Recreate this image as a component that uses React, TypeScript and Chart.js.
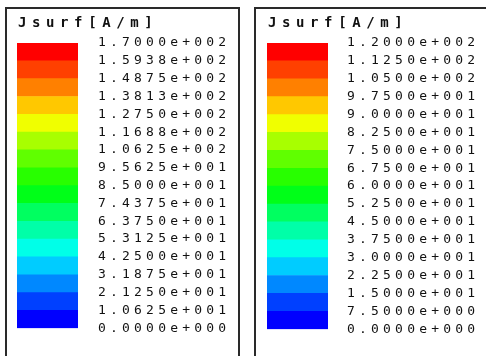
import React, { useEffect, useRef } from "react";
import { Chart, registerables } from "chart.js";

Chart.register(...registerables);

// Band colours, bottom (lowest level) to top (highest level)
const bandColors = [
  "#0000FF", "#0040FF", "#0088FF", "#00CCFF",
  "#00FFE8", "#00FFA8", "#00FF60", "#00FF18",
  "#28FF00", "#60FF00", "#A8FF00", "#F0FF00",
  "#FFC800", "#FF8000", "#FF4000", "#FF0000",
];

const title = "Jsurf[A/m]";

// Left legend: band boundaries (bottom to top) and their labels
const leftLevels = [
  0, 10.625, 21.25, 31.875, 42.5, 53.125, 63.75, 74.375, 85,
  95.625, 106.25, 116.875, 127.5, 138.125, 148.75, 159.375, 170,
];
const leftTickLabels = [
  "0.0000e+000", "1.0625e+001", "2.1250e+001", "3.1875e+001", "4.2500e+001",
  "5.3125e+001", "6.3750e+001", "7.4375e+001", "8.5000e+001", "9.5625e+001",
  "1.0625e+002", "1.1688e+002", "1.2750e+002", "1.3813e+002", "1.4875e+002",
  "1.5938e+002", "1.7000e+002",
];

// Right legend
const rightLevels = [
  0, 7.5, 15, 22.5, 30, 37.5, 45, 52.5, 60,
  67.5, 75, 82.5, 90, 97.5, 105, 112.5, 120,
];
const rightTickLabels = [
  "0.0000e+000", "7.5000e+000", "1.5000e+001", "2.2500e+001", "3.0000e+001",
  "3.7500e+001", "4.5000e+001", "5.2500e+001", "6.0000e+001", "6.7500e+001",
  "7.5000e+001", "8.2500e+001", "9.0000e+001", "9.7500e+001", "1.0500e+002",
  "1.1250e+002", "1.2000e+002",
];

type PanelProps = {
  levels: number[];
  tickLabels: string[];
  barLeft: number;
  barRight: number;
  labelGap: number;
  frame: { x0: number; y0: number; x1: number; y1: number };
};

const W = 243;
const H = 356;

function LegendPanel({ levels, tickLabels, barLeft, barRight, labelGap, frame }: PanelProps) {
  const ref = useRef<HTMLCanvasElement | null>(null);
  useEffect(() => {
    if (!ref.current) return;
    const datasets = bandColors.map((c, i) => ({
      label: "band" + i,
      data: [[levels[i], levels[i + 1]]] as any,
      backgroundColor: c,
      borderWidth: 0,
      barPercentage: 1,
      categoryPercentage: 1,
      grouped: false,
    }));
    const decor = {
      id: "decor",
      beforeDraw(chart: any) {
        const ctx = chart.ctx;
        ctx.save();
        ctx.fillStyle = "#ffffff";
        ctx.fillRect(0, 0, chart.width, chart.height);
        ctx.restore();
        ctx.letterSpacing = "4.2px";
      },
      afterDraw(chart: any) {
        const ctx = chart.ctx;
        ctx.save();
        ctx.strokeStyle = "#2a2a2a";
        ctx.lineWidth = 2;
        ctx.beginPath();
        ctx.moveTo(frame.x0, frame.y1);
        ctx.lineTo(frame.x0, frame.y0);
        ctx.lineTo(frame.x1, frame.y0);
        ctx.lineTo(frame.x1, frame.y1);
        ctx.stroke();
        ctx.letterSpacing = "5.6px";
        ctx.fillStyle = "#111111";
        ctx.font = "bold 14px 'DejaVu Sans Mono'";
        ctx.textBaseline = "middle";
        ctx.textAlign = "left";
        ctx.fillText(title, barLeft + 1, 23);
        ctx.restore();
      },
    };
    const chart = new Chart(ref.current, {
      type: "bar",
      data: { labels: [""], datasets },
      options: {
        animation: false,
        responsive: false,
        devicePixelRatio: 1,
        layout: { padding: { top: 43, bottom: 11, left: barLeft, right: 0 } },
        plugins: { legend: { display: false }, tooltip: { enabled: false }, title: { display: false } },
        scales: {
          x: { display: false, grid: { display: false } },
          y: {
            position: "right",
            min: levels[0],
            max: levels[levels.length - 1],
            grid: { display: false, drawTicks: false },
            border: { display: false },
            afterFit(scale: any) {
              scale.width = W - barRight;
            },
            afterBuildTicks(scale: any) {
              scale.ticks = levels.map((v) => ({ value: v }));
            },
            ticks: {
              padding: labelGap,
              color: "#111111",
              font: { family: "'DejaVu Sans Mono'", size: 13 },
              autoSkip: false,
              callback: (_v: any, i: number) => tickLabels[i],
            },
          },
        },
      },
      plugins: [decor],
    });
    return () => chart.destroy();
  }, []);
  return <canvas ref={ref} width={W} height={H} style={{ width: W, height: H, display: "block" }} />;
}

export default function App() {
  return (
    <div style={{ position: "absolute", left: 0, top: 0, width: 486, height: 356, display: "flex", background: "#fff" }}>
      <LegendPanel
        levels={leftLevels}
        tickLabels={leftTickLabels}
        barLeft={17}
        barRight={78}
        labelGap={20}
        frame={{ x0: 6, y0: 8, x1: 239, y1: 370 }}
      />
      <LegendPanel
        levels={rightLevels}
        tickLabels={rightTickLabels}
        barLeft={24}
        barRight={85}
        labelGap={19}
        frame={{ x0: 12, y0: 8, x1: 260, y1: 370 }}
      />
    </div>
  );
}
